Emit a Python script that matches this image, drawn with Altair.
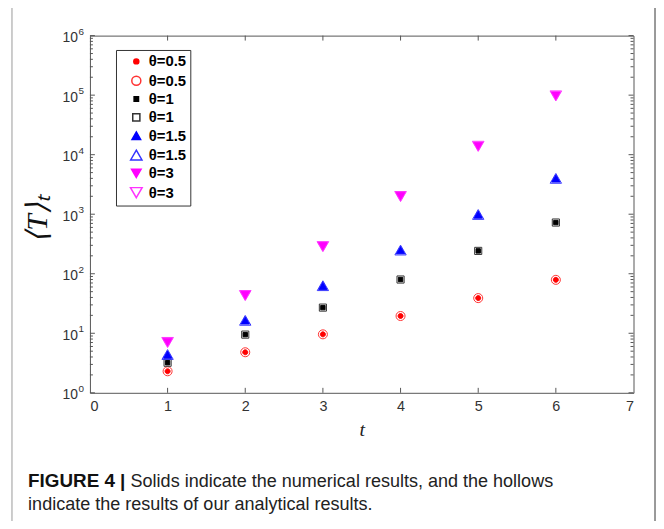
import altair as alt
import pandas as pd

# ---- data ----
t_values = [1, 2, 3, 4, 5, 6]
theta05_num = [2.3, 4.8, 9.6, 19.5, 39, 79]
theta05_ana = [2.3, 4.8, 9.6, 19.5, 39, 79]
theta1_num = [3.2, 9.5, 27, 80, 242, 725]
theta1_ana = [3.2, 9.5, 27, 80, 242, 725]
theta15_num = [4.4, 16.5, 63, 250, 990, 4000]
theta15_ana = [4.4, 16.5, 63, 250, 990, 4000]
theta3_num = [7, 43, 285, 1980, 13800, 97000]
theta3_ana = [7, 43, 285, 1980, 13800, 97000]

series_names = ["θ=0.5 s", "θ=0.5 h", "θ=1 s", "θ=1 h",
                "θ=1.5 s", "θ=1.5 h", "θ=3 s", "θ=3 h"]
series_values = [theta05_num, theta05_ana, theta1_num, theta1_ana,
                 theta15_num, theta15_ana, theta3_num, theta3_ana]

x_ticks = [0, 1, 2, 3, 4, 5, 6, 7]
y_major = [1, 10, 100, 1000, 10000, 100000, 1000000]
y_exponents = ["0", "1", "2", "3", "4", "5", "6"]
y_minor = [k * 10 ** e for e in range(6) for k in range(2, 10)]

rows = []
for name, vals in zip(series_names, series_values):
    for t, v in zip(t_values, vals):
        rows.append({"t": t, "T": v, "series": name})
df = pd.DataFrame(rows)

W, H = 548.6, 360.5
AX = "#555555"


def circle(r):
    return f"M{-r},0A{r},{r},0,1,0,{r},0A{r},{r},0,1,0,{-r},0Z"


def square(h):
    return f"M{-h},{-h}L{h},{-h}L{h},{h}L{-h},{h}Z"


def tri_up(h):
    v = h * 0.866
    return f"M0,{-v}L{h},{v}L{-h},{v}Z"


def tri_down(h):
    v = h * 0.866
    return f"M0,{v}L{h},{-v}L{-h},{-v}Z"


fill_range = ["#ff0000", "transparent", "#000000", "transparent",
              "#0000ff", "transparent", "#ff00ff", "transparent"]
stroke_range = ["#ff0000", "#ff3333", "#000000", "#333333",
                "#0000ff", "#3333ff", "#ff00ff", "#ff33ff"]
shape_range = [circle(0.42), circle(0.76), square(0.37), square(0.6),
               tri_up(0.72), tri_up(0.95), tri_down(0.8), tri_down(0.98)]
SYM = 144

xscale = alt.Scale(domain=[0, 7], nice=False)
yscale = alt.Scale(type="log", domain=[1, 1000000], nice=False)

xaxis = alt.Axis(values=x_ticks, title="t", ticks=False, domain=False, grid=False,
                 labelFont="Liberation Sans", labelFontSize=14.5, labelColor="#333333",
                 labelPadding=7, titleFont="Liberation Serif", titleFontStyle="italic",
                 titleFontWeight="normal", titleFontSize=20, titleColor="#222222",
                 titlePadding=7)
yaxis = alt.Axis(values=y_major, title="⟨T⟩ₜ", ticks=False, domain=False, grid=False,
                 labels=False,
                 titleFont="Liberation Serif", titleFontStyle="italic",
                 titleFontWeight="normal", titleFontSize=30, titleColor="#111111",
                 titleX=-52.7, titleY=184.5, titleAlign="center", titleBaseline="middle",
                 titleAngle=270)

legend = alt.Legend(
    orient="none", legendX=26.3, legendY=14.5,
    strokeColor="#333333", fillColor="white", padding=4,
    symbolOffset=9, labelOffset=5, rowPadding=2.5, symbolSize=SYM,
    labelFont="Liberation Sans", labelFontSize=15, labelFontWeight="bold",
    labelColor="black", labelExpr="split(datum.label, ' ')[0]",
)

points = alt.Chart(df).mark_point(opacity=1, strokeWidth=1, size=SYM).encode(
    x=alt.X("t:Q", scale=xscale, axis=xaxis),
    y=alt.Y("T:Q", scale=yscale, axis=yaxis),
    fill=alt.Fill("series:N", title=None, legend=legend,
                  scale=alt.Scale(domain=series_names, range=fill_range)),
    stroke=alt.Stroke("series:N", title=None, legend=legend,
                      scale=alt.Scale(domain=series_names, range=stroke_range)),
    shape=alt.Shape("series:N", title=None, legend=legend,
                    scale=alt.Scale(domain=series_names, range=shape_range)),
)

ymaj_df = pd.DataFrame({"T": y_major, "exp": y_exponents})
ymin_df = pd.DataFrame({"T": y_minor})
xt_df = pd.DataFrame({"t": x_ticks[1:-1]})


def yticks(data, length):
    left = alt.Chart(data).mark_rule(color=AX, strokeWidth=1).encode(
        y=alt.Y("T:Q", scale=yscale, axis=yaxis), x=alt.value(0), x2=alt.value(length))
    right = alt.Chart(data).mark_rule(color=AX, strokeWidth=1).encode(
        y=alt.Y("T:Q", scale=yscale, axis=yaxis), x=alt.value(W - length), x2=alt.value(W))
    return [left, right]


# y tick labels "10" with superscript exponent
ylab_base = alt.Chart(ymaj_df).mark_text(
    text="10", font="Liberation Sans", fontSize=14, align="right", baseline="middle",
    dy=2.5, color="#333333").encode(
    y=alt.Y("T:Q", scale=yscale, axis=yaxis), x=alt.value(-12.2))
ylab_exp = alt.Chart(ymaj_df).mark_text(
    font="Liberation Sans", fontSize=10, align="left", baseline="middle",
    dy=-4, color="#333333").encode(
    y=alt.Y("T:Q", scale=yscale, axis=yaxis), x=alt.value(-11.6), text="exp:N")

xt_bottom = alt.Chart(xt_df).mark_rule(color=AX).encode(
    x=alt.X("t:Q", scale=xscale, axis=xaxis), y=alt.value(H - 5), y2=alt.value(H))
xt_top = alt.Chart(xt_df).mark_rule(color=AX).encode(
    x=alt.X("t:Q", scale=xscale, axis=xaxis), y=alt.value(0), y2=alt.value(5))

# figure frame and caption (decoration outside the plot)
one = pd.DataFrame({"a": [0]})
OX, OY = -78.7, -28.8
RX = 570.3
BOT = 500
frame_left = alt.Chart(one).mark_rule(color="#bbbbbb", strokeWidth=1.5).encode(
    x=alt.value(OX), y=alt.value(OY), y2=alt.value(BOT))
frame_top = alt.Chart(one).mark_rule(color="#666666", strokeWidth=1.5).encode(
    x=alt.value(OX), x2=alt.value(RX), y=alt.value(OY))
frame_right = alt.Chart(one).mark_rule(color="#777777", strokeWidth=1.5).encode(
    x=alt.value(RX), y=alt.value(OY), y2=alt.value(BOT))

cap1a = alt.Chart(one).mark_text(
    text="FIGURE 4 |", font="Liberation Sans", fontSize=19, fontWeight="bold",
    align="left", baseline="alphabetic", color="#111111").encode(
    x=alt.value(-62.4), y=alt.value(455.8))
cap1b = alt.Chart(one).mark_text(
    text="Solids indicate the numerical results, and the hollows",
    font="Liberation Sans", fontSize=18.2, align="left", baseline="alphabetic",
    color="#222222").encode(x=alt.value(41), y=alt.value(455.8))
cap2 = alt.Chart(one).mark_text(
    text="indicate the results of our analytical results.",
    font="Liberation Sans", fontSize=18.2, align="left", baseline="alphabetic",
    color="#222222").encode(x=alt.value(-62.4), y=alt.value(478.8))

layers = ([points] + yticks(ymaj_df, 5) + yticks(ymin_df, 3) + [xt_bottom, xt_top]
          + [ylab_base, ylab_exp]
          + [frame_left, frame_top, frame_right, cap1a, cap1b, cap2])

chart = alt.layer(*layers).properties(
    width=W, height=H,
    autosize=alt.AutoSizeParams(type="none"),
    padding={"left": 82.7, "top": 25.5, "right": 22.7, "bottom": 127},
).configure(background="white").configure_view(stroke=AX, strokeWidth=1)

chart.save("out.html", embed_options={"renderer": "svg", "actions": False})
